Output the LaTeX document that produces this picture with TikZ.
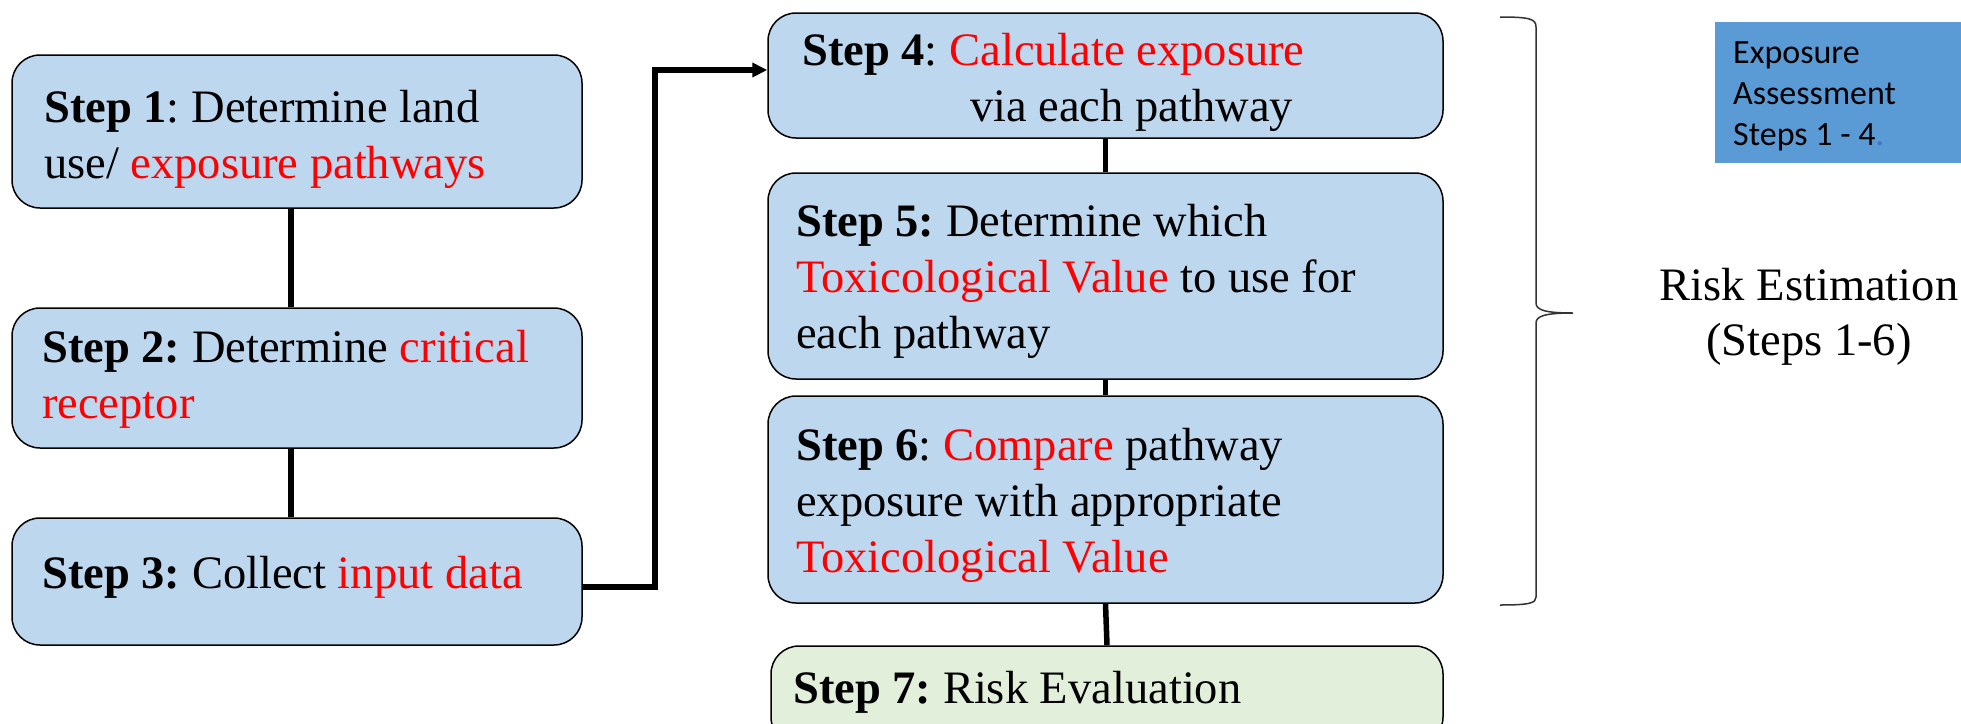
\documentclass[tikz,border=0pt]{standalone}
\usepackage{fontspec}
\setmainfont{Liberation Serif}
\newfontfamily\calfont{Carlito}
\usetikzlibrary{arrows.meta}
\definecolor{boxblue}{RGB}{189,215,238}
\definecolor{boxgreen}{RGB}{226,239,218}
\definecolor{noteblue}{RGB}{91,155,213}
\definecolor{dotblue}{RGB}{68,114,196}
\definecolor{txtred}{RGB}{255,0,0}
\newcommand{\redtxt}[1]{\textcolor{txtred}{#1}}
\frenchspacing
\begin{document}
\begin{tikzpicture}[x=1pt,y=-1pt,
  stepbox/.style={draw=black, line width=1.5pt, fill=boxblue, rounded corners=28pt, inner sep=0pt},
  steptext/.style={anchor=base west, inner sep=0pt, font=\fontsize{46.5}{56}\selectfont},
  link/.style={line width=5.5pt, draw=black},
  bracepath/.style={line width=1.5pt, draw=black!80}]
\useasboundingbox (0,0) rectangle (1961,723);
\clip (0,0) rectangle (1961,723);
% left column
\node[stepbox, minimum width=570pt, minimum height=153pt] (s1) at (297,131.5) {};
\node[stepbox, minimum width=570pt, minimum height=140pt] (s2) at (297,378) {};
\node[stepbox, minimum width=570pt, minimum height=127pt] (s3) at (297,581.5) {};
% right column
\node[stepbox, minimum width=675pt, minimum height=125pt] (s4) at (1105.5,75.5) {};
\node[stepbox, minimum width=675pt, minimum height=206pt] (s5) at (1105.5,276) {};
\node[stepbox, minimum width=675pt, minimum height=207pt] (s6) at (1105.5,499.5) {};
\node[stepbox, fill=boxgreen, minimum width=672pt, minimum height=99pt] (s7) at (1107,695.5) {};
% texts
\node[steptext] (t1) at (44,122) {\begin{tabular}[t]{@{}l@{}}\textbf{Step 1}: Determine land\\use/ \redtxt{exposure pathways}\end{tabular}};
\node[steptext] (t2) at (42,362) {\begin{tabular}[t]{@{}l@{}}\textbf{Step 2:} Determine \redtxt{critical}\\\redtxt{receptor}\end{tabular}};
\node[steptext] (t3) at (42,588) {\textbf{Step 3:} Collect \redtxt{input data}};
\node[steptext] (t4) at (802,65) {\begin{tabular}[t]{@{}l@{}}\textbf{Step 4}: \redtxt{Calculate exposure}\\\hspace*{168pt}via each pathway\end{tabular}};
\node[steptext] (t5) at (796,236) {\begin{tabular}[t]{@{}l@{}}\textbf{Step 5:} Determine which\\\redtxt{Toxicological Value} to use for\\each pathway\end{tabular}};
\node[steptext] (t6) at (796,460) {\begin{tabular}[t]{@{}l@{}}\textbf{Step 6}: \redtxt{Compare} pathway\\exposure with appropriate\\\redtxt{Toxicological Value}\end{tabular}};
\node[steptext] (t7) at (793,703) {\textbf{Step 7:} Risk Evaluation};
% connectors
\draw[link] ([xshift=-6pt]s1.south) -- ([xshift=-6pt]s2.north);
\draw[link] ([xshift=-6pt]s2.south) -- ([xshift=-6pt]s3.north);
\draw[link, -{Triangle[length=15pt,width=14pt]}] ([yshift=-5.5pt]s3.east) -- ++(72,0) |- ([yshift=5.5pt]s4.west);
\draw[link] (s4.south) -- (s5.north);
\draw[link] (s5.south) -- (s6.north);
\draw[link] (s6.south) -- (s7.north);
% brace
\draw[bracepath] (1500,17) .. controls (1530,17) and (1536,19) .. (1536,27) -- (1536,303)
  .. controls (1536,310) and (1545,313) .. (1573,313)
  .. controls (1545,313) and (1536,316) .. (1536,323) -- (1536,597)
  .. controls (1536,603) and (1530,605) .. (1500,605);
\node[anchor=base, inner sep=0pt, font=\fontsize{46.5}{55}\selectfont] (risk) at (1809,300) {\begin{tabular}[t]{@{}c@{}}Risk Estimation\\(Steps 1-6)\end{tabular}};
% note box
\node[fill=noteblue, draw=none, minimum width=250pt, minimum height=141pt, inner sep=0pt] (note) at (1840,92.5) {};
\node[anchor=base west, inner sep=0pt, font=\calfont\fontsize{34}{41}\selectfont] (notetext) at (1733,63) {\begin{tabular}[t]{@{}l@{}}Exposure\\Assessment\\Steps 1 - 4\textcolor{dotblue}{.}\end{tabular}};
\end{tikzpicture}
\end{document}
